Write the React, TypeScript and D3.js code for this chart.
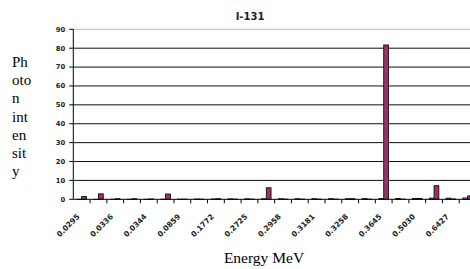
import React from "react";
import * as d3 from "d3";

const categories = [
  "0.0295", "0.0298", "0.0336", "0.0338", "0.0344", "0.0802", "0.0859", "0.1640",
  "0.1772", "0.2329", "0.2725", "0.2843", "0.2958", "0.3025", "0.3181", "0.3250",
  "0.3258", "0.3584", "0.3645", "0.4048", "0.5030", "0.6370", "0.6427", "0.7229",
];
const energyValues = [
  0.0295, 0.0298, 0.0336, 0.0338, 0.0344, 0.0802, 0.0859, 0.164,
  0.1772, 0.2329, 0.2725, 0.2843, 0.2958, 0.3025, 0.3181, 0.325,
  0.3258, 0.3584, 0.3645, 0.4048, 0.503, 0.637, 0.6427, 0.7229,
];
const intensityValues = [
  1.5, 2.9, 0.3, 0.3, 0.2, 2.8, 0.1, 0.1,
  0.3, 0.1, 0.1, 6.1, 0.1, 0.1, 0.1, 0.1,
  0.3, 0.1, 81.7, 0.1, 0.4, 7.2, 0.2, 1.8,
];
const yTicks = [0, 10, 20, 30, 40, 50, 60, 70, 80, 90];
const yTitleLines = ["Ph", "oto", "n", "int", "en", "sit", "y"];
const seriesKeys = ["energy", "intensity"];
const seriesColors = ["#9999FF", "#993366"];

const W = 470;
const H = 269;
const left = 73.3;
const right = 476;
const top = 29.3;
const bottom = 199.3;

export default function App() {
  const x = d3.scaleBand<string>().domain(categories).range([left, right]).paddingInner(0.428).paddingOuter(0.214);
  const xStep = d3.scaleBand<string>().domain(categories).range([left, right]).padding(0);
  const xs = d3.scaleBand<string>().domain(seriesKeys).range([0, x.bandwidth()]).padding(0);
  const y = d3.scaleLinear().domain([0, 90]).range([bottom, top]);
  const series = [energyValues, intensityValues];
  const sans = "'DejaVu Sans', sans-serif";
  const serif = "'Liberation Serif', 'Times New Roman', serif";

  return (
    <svg width={W} height={H} style={{ position: "absolute", left: 0, top: 0, background: "#fff" }}>
      <text x={250} y={20} textAnchor="middle" fontFamily={sans} fontWeight="bold" fontSize={10} fill="#222">I-131</text>
      {yTicks.filter((t) => t > 0).map((t) => (
        <line key={"g" + t} x1={left} x2={W} y1={y(t)} y2={y(t)} stroke={t === 90 ? "#bbbbbb" : "#111"} strokeWidth={1} />
      ))}
      {yTicks.map((t) => (
        <g key={"t" + t}>
          <line x1={left - 4} x2={left} y1={y(t)} y2={y(t)} stroke="#000" />
          <text x={left - 8} y={y(t)} dy="0.35em" textAnchor="end" fontFamily={sans} fontWeight="bold" fontSize={6.8} fill="#222">{t}</text>
        </g>
      ))}
      {series.map((vals, si) =>
        vals.map((v, i) => {
          const c = categories[i];
          const x0 = (x(c) as number) + (xs(seriesKeys[si]) as number);
          return (
            <rect key={si + "-" + i} x={x0} width={xs.bandwidth()} y={y(v)} height={Math.max(0, bottom - y(v))}
              fill={seriesColors[si]} stroke="#000" strokeWidth={0.8} />
          );
        })
      )}
      <line x1={left} x2={left} y1={top} y2={bottom} stroke="#000" />
      <line x1={left} x2={W} y1={bottom} y2={bottom} stroke="#000" />
      {categories.map((c, i) => (
        <line key={"xt" + i} x1={(xStep(c) as number) + xStep.bandwidth()} x2={(xStep(c) as number) + xStep.bandwidth()} y1={bottom} y2={bottom + 4} stroke="#000" />
      ))}
      {categories.map((c, i) => {
        if (i % 2 !== 0) return null;
        const cx = (xStep(c) as number) + xStep.bandwidth() / 2 - 1.5;
        const cy = 217;
        return (
          <text key={"xl" + i} x={cx} y={cy} textAnchor="end" transform={`rotate(-45 ${cx} ${cy})`}
            fontFamily={sans} fontWeight="bold" fontSize={7.5} fill="#222">{c}</text>
        );
      })}
      {yTitleLines.map((s, i) => (
        <text key={"yt" + i} x={12} y={67 + i * 18.2} fontFamily={serif} fontSize={15} fill="#000">{s}</text>
      ))}
      <text x={264} y={263} textAnchor="middle" fontFamily={serif} fontSize={15.5} fill="#000">Energy MeV</text>
    </svg>
  );
}
